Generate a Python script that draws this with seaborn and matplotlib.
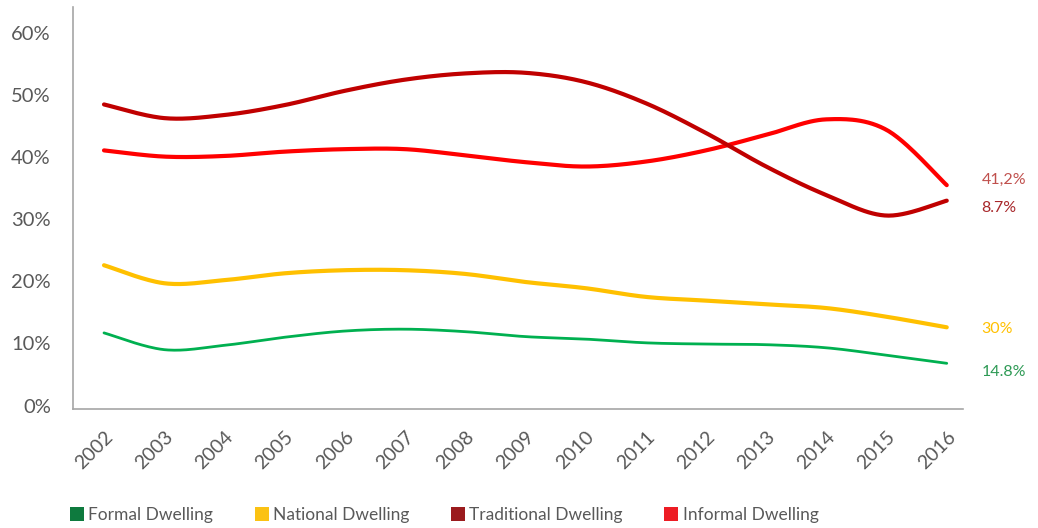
import numpy as np
import pandas as pd
import matplotlib
matplotlib.use("Agg")
import matplotlib.pyplot as plt
from matplotlib.patches import Patch
from matplotlib.ticker import FuncFormatter
import seaborn as sns

# Share of dwellings by type, 2002-2016 (%)
years = list(range(2002, 2017))
formal = [11.7, 9.0, 9.7, 11.0, 12.0, 12.3, 11.9, 11.1, 10.7, 10.1, 9.9, 9.8, 9.3, 8.1, 6.8]
national = [22.6, 19.7, 20.2, 21.3, 21.8, 21.8, 21.2, 19.9, 18.9, 17.5, 16.9, 16.3, 15.7, 14.3, 12.6]
traditional = [48.5, 46.3, 46.8, 48.4, 50.7, 52.5, 53.5, 53.6, 52.1, 48.7, 43.9, 38.5, 33.9, 30.6, 33.0]
informal = [41.1, 40.1, 40.2, 40.9, 41.3, 41.3, 40.3, 39.2, 38.5, 39.3, 41.1, 43.6, 46.1, 44.4, 35.5]

series_names = ["Formal Dwelling", "National Dwelling", "Traditional Dwelling", "Informal Dwelling"]
end_labels = ["14.8%", "30%", "8.7%", "41,2%"]
y_ticks = [0, 10, 20, 30, 40, 50, 60]

# styling
line_colors = ["#00B050", "#FFC000", "#C00000", "#FF0000"]
legend_colors = ["#0E7A3E", "#FBC213", "#9B1B1E", "#ED1C24"]
label_colors = ["#2E9A55", "#FFC000", "#A8282B", "#C0504D"]
line_widths = [2.0, 3.0, 3.0, 3.0]
label_offsets = [(25, -6), (25, -1), (25, -5), (25, 4)]
draw_order = [0, 1, 3, 2]


def _hermite_tangents(v):
    m = np.empty_like(v)
    m[1:-1] = (v[2:] - v[:-2]) / 2.0
    m[0] = (v[1] - v[0]) / 2.0
    m[-1] = (v[-1] - v[-2]) / 2.0
    return m


def smooth(x, y, n=30):
    """Parametric Catmull-Rom curve through the data points."""
    x = np.asarray(x, float)
    y = np.asarray(y, float)
    mx, my = _hermite_tangents(x), _hermite_tangents(y)
    xs, ys = [], []
    for i in range(len(x) - 1):
        t = np.linspace(0, 1, n, endpoint=(i == len(x) - 2))
        h00 = 2 * t**3 - 3 * t**2 + 1
        h10 = t**3 - 2 * t**2 + t
        h01 = -2 * t**3 + 3 * t**2
        h11 = t**3 - t**2
        xs.append(h00 * x[i] + h10 * mx[i] + h01 * x[i + 1] + h11 * mx[i + 1])
        ys.append(h00 * y[i] + h10 * my[i] + h01 * y[i + 1] + h11 * my[i + 1])
    return np.concatenate(xs), np.concatenate(ys)


sns.set_theme(style="white")
plt.rcParams["font.family"] = ["Lato", "DejaVu Sans"]

fig = plt.figure(figsize=(10.38, 5.28), dpi=100)
ax = fig.add_axes([73 / 1038, 1 - 409 / 528, (963 - 73) / 1038, (409 - 7) / 528])

all_values = [formal, national, traditional, informal]
frames = []
for name, vals in zip(series_names, all_values):
    sx, sy = smooth(years, vals)
    frames.append(pd.DataFrame({"year": sx, "share": sy, "type": name}))
df = pd.concat(frames, ignore_index=True)

for i in draw_order:
    sub = df[df["type"] == series_names[i]]
    sns.lineplot(data=sub, x="year", y="share", ax=ax, color=line_colors[i],
                 lw=line_widths[i], sort=False, estimator=None, legend=False,
                 solid_capstyle="round")

for i, vals in enumerate(all_values):
    ax.annotate(end_labels[i], xy=(years[-1], vals[-1]), xytext=label_offsets[i],
                textcoords="offset points", color=label_colors[i], fontsize=11.5,
                va="center", ha="left", annotation_clip=False)

ax.set_xlim(2001.485, 2016.27)
ax.set_ylim(-0.56, 64.2)
ax.set_yticks(y_ticks)
ax.yaxis.set_major_formatter(FuncFormatter(lambda v, p: f"{v:.0f}%"))
ax.set_xticks(years)
ax.set_xticklabels([str(y) for y in years], rotation=45, ha="right",
                   rotation_mode="anchor")
ax.tick_params(axis="x", length=0, pad=14, labelsize=14, labelcolor="#595959")
ax.tick_params(axis="y", length=0, pad=16, labelsize=14.5, labelcolor="#595959")
ax.set_xlabel("")
ax.set_ylabel("")
ax.grid(False)
for side in ["top", "right"]:
    ax.spines[side].set_visible(False)
for side in ["left", "bottom"]:
    ax.spines[side].set_color("#A6A6A6")
    ax.spines[side].set_linewidth(1.2)

handles = [Patch(facecolor=c, edgecolor="none") for c in legend_colors]
fig.legend(handles, series_names, loc="center left",
           bbox_to_anchor=(70 / 1038, 1 - 515 / 528), ncol=4, frameon=False,
           fontsize=12.5, handlelength=0.8, handleheight=0.8, handletextpad=0.25,
           columnspacing=2.4, borderpad=0, borderaxespad=0, labelcolor="#595959")

fig.savefig("out.png", dpi=100)
